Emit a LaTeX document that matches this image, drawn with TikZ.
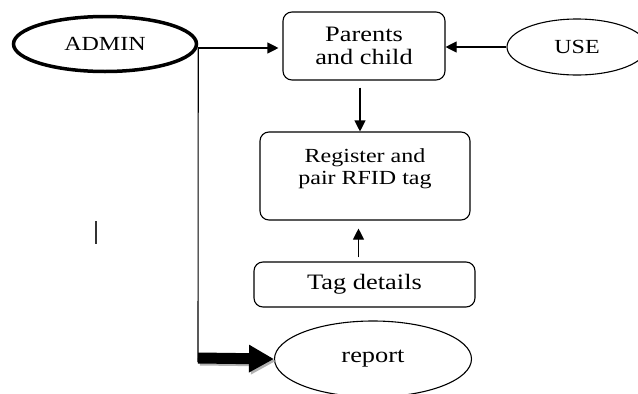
\documentclass[tikz,border=0pt]{standalone}
\usepackage{fontspec}
\setmainfont[FakeStretch=1.2]{Liberation Serif}
\usetikzlibrary{arrows.meta,shapes.geometric}
\begin{document}
\begin{tikzpicture}[x=1pt,y=-1pt,
  box/.style={draw,rounded corners=9pt,line width=1.1pt,align=center,inner sep=0pt,font=\fontsize{22}{23}\selectfont},
  oval/.style={draw,ellipse,line width=1.1pt,inner sep=0pt,font=\fontsize{22}{23}\selectfont},
  con/.style={line width=1.1pt,-{Triangle[length=11pt,width=11pt]}},
  plain/.style={line width=1.1pt},
  bigarrow/.style={line width=11pt,-{Triangle[length=25pt,width=26pt]}}]
\clip (0,0) rectangle (638,394);
\fill[white] (0,0) rectangle (638,394);

\node[oval,line width=3.5pt,minimum width=183pt,minimum height=55pt,font=\fontsize{20}{22}\selectfont] (admin) at (105,44) {ADMIN};
\node[box,minimum width=162pt,minimum height=68pt] (parents) at (364,46) {Parents\\and child};
\node[oval,minimum width=140pt,minimum height=56pt,font=\fontsize{20}{22}\selectfont] (use) at (577,47) {USE};
\node[box,minimum width=210pt,minimum height=88pt] (reg) at (365,176) {};
\node[align=center,inner sep=0pt,font=\fontsize{20}{22}\selectfont] (regtext) at (365,169) {Register and\\pair RFID tag};
\node[box,minimum width=221pt,minimum height=45pt] (tag) at (364.5,284.5) {Tag details};
\node[oval,minimum width=197pt,minimum height=76pt] (report) at (373,359) {report};

\coordinate (corner) at (198,358);

\draw[con,shorten >=4pt] ([yshift=-4pt]admin.east) -- ([yshift=-2pt]parents.west);
\draw[con] (use.west) -- (use.west -| parents.east);
\draw[con,shorten <=7pt] ([xshift=-4pt]parents.south) -- ([xshift=-4pt]parents.south |- reg.north);
\draw[con,shorten <=4pt,shorten >=8pt] ([xshift=-6pt]tag.north) -- ([xshift=-6pt]tag.north |- reg.south);
\draw[plain] ([yshift=-4pt]admin.east) -- ([yshift=-4pt]corner);
\draw[bigarrow,gray!60,transform canvas={xshift=2pt,yshift=-2pt}] (corner) -- (report.west);
\draw[bigarrow] (corner) -- (report.west);

\draw[line width=1.5pt,black!80] (96,221) -- (96,244);
\end{tikzpicture}
\end{document}
